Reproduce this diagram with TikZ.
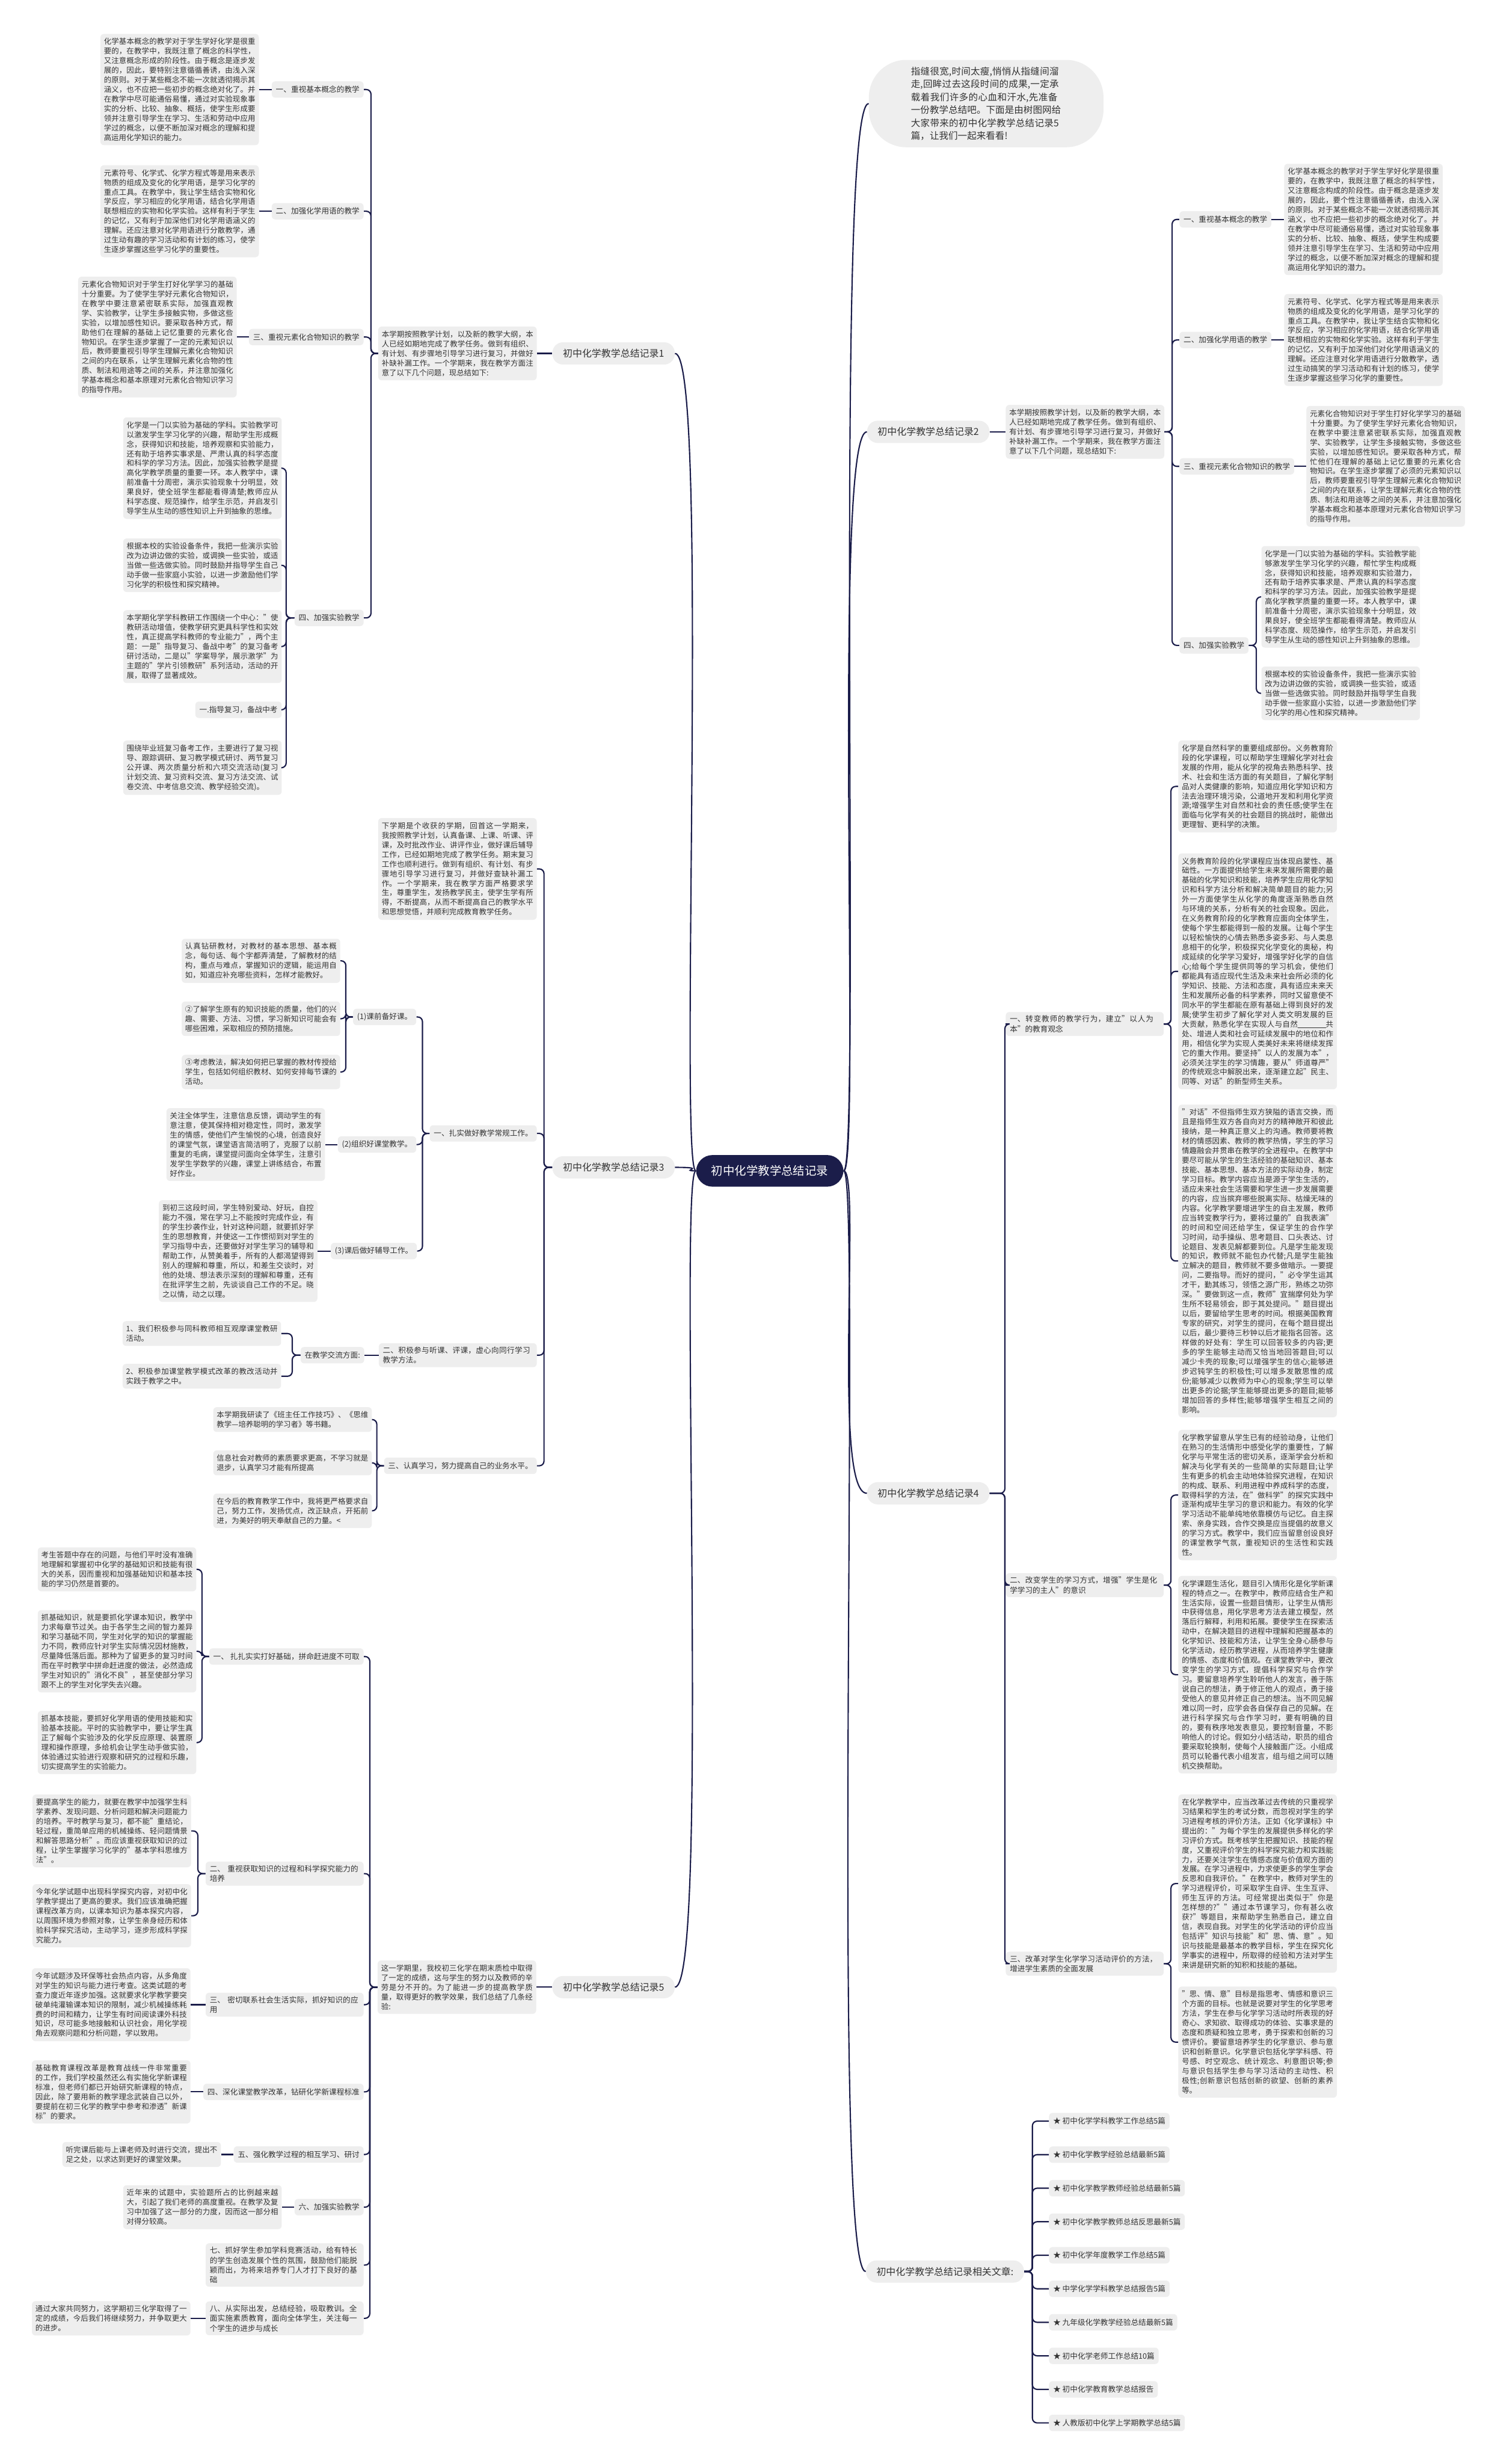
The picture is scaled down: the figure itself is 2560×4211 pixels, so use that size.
\documentclass[tikz,border=0pt]{standalone}
\usepackage{fontspec}
\setmainfont{Noto Sans CJK SC}
\XeTeXlinebreaklocale "zh"
\XeTeXlinebreakskip=0pt plus 1pt
\definecolor{linecol}{HTML}{1B1D4A}
\definecolor{boxcol}{HTML}{EEEEEE}
\definecolor{txtcol}{HTML}{333333}

\begin{document}
\begin{tikzpicture}[x=0.5pt,y=-0.5pt,
  conn/.style={draw=linecol,line width=1.1pt,rounded corners=4pt},
  leaf/.style={fill=boxcol,rounded corners=3pt,text=txtcol,font=\fontsize{6.4pt}{8.2pt}\selectfont,
    text width=129.5pt,align=justify,inner xsep=3pt,inner ysep=3.5pt},
  item/.style={fill=boxcol,rounded corners=3pt,text=txtcol,font=\fontsize{6.5pt}{8.4pt}\selectfont,
    inner xsep=3.5pt,inner ysep=2pt,minimum height=14pt},
  itemw/.style={item,text width=128pt,align=left,inner ysep=3pt},
  branch/.style={fill=boxcol,rounded corners=9pt,text=txtcol,font=\fontsize{8.2pt}{10pt}\selectfont,
    inner xsep=9pt,minimum height=19pt},
  hubnode/.style={fill=linecol,rounded corners=14pt,text=white,font=\fontsize{10pt}{12pt}\selectfont,
    inner xsep=13pt,minimum height=27pt}]
\useasboundingbox[fill=white] (0,0) rectangle (2560,4211);

\node[hubnode] (main) at (1316,2001) {初中化学教学总结记录};

% intro
\node[fill=boxcol,rounded corners=32pt,text=txtcol,font=\fontsize{8pt}{11pt}\selectfont,
  text width=128.5pt,align=left,inner xsep=36pt,inner ysep=6pt,anchor=west] (intro) at (1485,177)
  {指缝很宽,时间太瘦,悄悄从指缝间溜走,回眸过去这段时间的成果,一定承载着我们许多的心血和汗水,先准备一份教学总结吧。下面是由树图网给大家带来的初中化学教学总结记录5篇，让我们一起来看看!};

% record 1
\node[branch,anchor=west] (rec1) at (944,604) {初中化学教学总结记录1};
\node[leaf,anchor=east] (in1) at (918,604) {本学期按照教学计划，以及新的教学大纲，本人已经如期地完成了教学任务。做到有组织、有计划、有步骤地引导学习进行复习，并做好补缺补漏工作。一个学期来，我在教学方面注意了以下几个问题，现总结如下:};
\node[item,anchor=east] (r1l1) at (622,153) {一、重视基本概念的教学};
\node[item,anchor=east] (r1l2) at (622,361) {二、加强化学用语的教学};
\node[item,anchor=east] (r1l3) at (622,576) {三、重视元素化合物知识的教学};
\node[item,anchor=east] (r1l4) at (622,1056) {四、加强实验教学};
\node[leaf,anchor=east] (r1t1) at (443,153) {化学基本概念的教学对于学生学好化学是很重要的，在教学中，我既注意了概念的科学性，又注意概念形成的阶段性。由于概念是逐步发展的，因此，要特别注意循循善诱，由浅入深的原则。对于某些概念不能一次就透彻揭示其涵义，也不应把一些初步的概念绝对化了。并在教学中尽可能通俗易懂，通过对实验现象事实的分析、比较、抽象、概括，使学生形成要领并注意引导学生在学习、生活和劳动中应用学过的概念，以便不断加深对概念的理解和提高运用化学知识的能力。};
\node[leaf,anchor=east] (r1t2) at (443,361) {元素符号、化学式、化学方程式等是用来表示物质的组成及变化的化学用语，是学习化学的重点工具。在教学中，我让学生结合实物和化学反应，学习相应的化学用语，结合化学用语联想相应的实物和化学实验。这样有利于学生的记忆，又有利于加深他们对化学用语涵义的理解。还应注意对化学用语进行分散教学，通过生动有趣的学习活动和有计划的练习，使学生逐步掌握这些学习化学的重要性。};
\node[leaf,anchor=east] (r1t3) at (405,576) {元素化合物知识对于学生打好化学学习的基础十分重要。为了使学生学好元素化合物知识，在教学中要注意紧密联系实际，加强直观教学、实验教学，让学生多接触实物，多做这些实验，以增加感性知识。要采取各种方式，帮助他们在理解的基础上记忆重要的元素化合物知识。在学生逐步掌握了一定的元素知识以后，教师要重视引导学生理解元素化合物知识之间的内在联系，让学生理解元素化合物的性质、制法和用途等之间的关系，并注意加强化学基本概念和基本原理对元素化合物知识学习的指导作用。};
\node[leaf,anchor=east] (r1t4a) at (482,800) {化学是一门以实验为基础的学科。实验教学可以激发学生学习化学的兴趣，帮助学生形成概念，获得知识和技能，培养观察和实验能力，还有助于培养实事求是、严肃认真的科学态度和科学的学习方法。因此，加强实验教学是提高化学教学质量的重要一环。本人教学中，课前准备十分周密，演示实验现象十分明显，效果良好，使全班学生都能看得清楚;教师应从科学态度、规范操作，给学生示范，并启发引导学生从生动的感性知识上升到抽象的思维。};
\node[leaf,anchor=east] (r1t4b) at (482,966) {根据本校的实验设备条件，我把一些演示实验改为边讲边做的实验，或调换一些实验，或适当做一些选做实验。同时鼓励并指导学生自己动手做一些家庭小实验，以进一步激励他们学习化学的积极性和探究精神。};
\node[leaf,anchor=east] (r1t4c) at (482,1105) {本学期化学学科教研工作围绕一个中心："使教研活动增值，使教学研究更具科学性和实效性，真正提高学科教师的专业能力"，两个主题：一是"指导复习、备战中考"的复习备考研讨活动，二是以"学案导学，展示激学"为主题的"学片引领教研"系列活动，活动的开展，取得了显著成效。};
\node[item,anchor=east] (r1t4d) at (482,1213) {一.指导复习，备战中考};
\node[leaf,anchor=east] (r1t4e) at (482,1312) {围绕毕业班复习备考工作，主要进行了复习视导、跟踪调研、复习教学模式研讨、两节复习公开课、两次质量分析和六项交流活动(复习计划交流、复习资料交流、复习方法交流、试卷交流、中考信息交流、教学经验交流)。};
\draw[conn] (rec1.west) -- (in1.east);
\foreach \n in {r1l1,r1l2,r1l3,r1l4} \draw[conn] (in1.west) -- ++(-12,0) |- (\n.east);
\draw[conn] (r1l1.west) -- (r1t1.east);
\draw[conn] (r1l2.west) -- (r1t2.east);
\draw[conn] (r1l3.west) -- (r1t3.east);
\foreach \n in {r1t4a,r1t4b,r1t4c,r1t4d,r1t4e} \draw[conn] (r1l4.west) -- ++(-14,0) |- (\n.east);

% record 3
\node[branch,anchor=west] (rec3) at (944,1995) {初中化学教学总结记录3};
\node[leaf,anchor=east] (in3) at (918,1485) {下学期是个收获的学期，回首这一学期来，我按照教学计划，认真备课、上课、听课、评课，及时批改作业、讲评作业，做好课后辅导工作，已经如期地完成了教学任务。期末复习工作也顺利进行。做到有组织、有计划、有步骤地引导学习进行复习，并做好查缺补漏工作。一个学期来，我在教学方面严格要求学生，尊重学生，发扬教学民主，使学生学有所得，不断提高，从而不断提高自己的教学水平和思想觉悟，并顺利完成教育教学任务。};
\node[item,anchor=east] (r3l1) at (918,1937) {一、扎实做好教学常规工作。};
\node[itemw,anchor=east] (r3l2) at (918,2316) {二、积极参与听课、评课，虚心向同行学习教学方法。};
\node[item,anchor=east] (r3l3) at (918,2505) {三、认真学习，努力提高自己的业务水平。};
\node[item,anchor=east] (r3s1) at (712,1738) {(1)课前备好课。};
\node[item,anchor=east] (r3s2) at (712,1956) {(2)组织好课堂教学。};
\node[item,anchor=east] (r3s3) at (713,2138) {(3)课后做好辅导工作。};
\node[leaf,anchor=east] (r3t1a) at (582,1642) {认真钻研教材，对教材的基本思想、基本概念，每句话、每个字都弄清楚，了解教材的结构，重点与难点，掌握知识的逻辑，能运用自如，知道应补充哪些资料，怎样才能教好。};
\node[leaf,anchor=east] (r3t1b) at (582,1741) {②了解学生原有的知识技能的质量，他们的兴趣、需要、方法、习惯，学习新知识可能会有哪些困难，采取相应的预防措施。};
\node[leaf,anchor=east] (r3t1c) at (582,1832) {③考虑教法，解决如何把已掌握的教材传授给学生，包括如何组织教材、如何安排每节课的活动。};
\node[leaf,anchor=east] (r3t2) at (556,1956) {关注全体学生，注意信息反馈，调动学生的有意注意，使其保持相对稳定性，同时，激发学生的情感，使他们产生愉悦的心境，创造良好的课堂气氛，课堂语言简洁明了，克服了以前重复的毛病，课堂提问面向全体学生，注意引发学生学数学的兴趣，课堂上讲练结合，布置好作业。};
\node[leaf,anchor=east] (r3t3) at (543,2138) {到初三这段时间，学生特别爱动、好玩，自控能力不强，常在学习上不能按时完成作业，有的学生抄袭作业，针对这种问题，就要抓好学生的思想教育，并使这一工作惯彻到对学生的学习指导中去，还要做好对学生学习的辅导和帮助工作，从赞美着手，所有的人都渴望得到别人的理解和尊重，所以，和差生交谈时，对他的处境、想法表示深刻的理解和尊重，还有在批评学生之前，先谈谈自己工作的不足。晓之以情，动之以理。};
\node[item,anchor=east] (r3s4) at (623,2316) {在教学交流方面:};
\node[leaf,anchor=east] (r3t4a) at (481,2279) {1、我们积极参与同科教师相互观摩课堂教研活动。};
\node[leaf,anchor=east] (r3t4b) at (481,2352) {2、积极参加课堂教学模式改革的教改活动并实践于教学之中。};
\node[leaf,anchor=east] (r3t5a) at (636,2426) {本学期我研读了《班主任工作技巧》、《思维教学—培养聪明的学习者》等书籍。};
\node[leaf,anchor=east] (r3t5b) at (636,2500) {信息社会对教师的素质要求更高，不学习就是退步，认真学习才能有所提高};
\node[leaf,anchor=east] (r3t5c) at (636,2582) {在今后的教育教学工作中，我将更严格要求自己，努力工作，发扬优点，改正缺点，开拓前进，为美好的明天奉献自己的力量。<};
\foreach \n in {in3,r3l1,r3l2,r3l3} \draw[conn] (rec3.west) -- ++(-14,0) |- (\n.east);
\foreach \n in {r3s1,r3s2,r3s3} \draw[conn] (r3l1.west) -- ++(-12,0) |- (\n.east);
\foreach \n in {r3t1a,r3t1b,r3t1c} \draw[conn] (r3s1.west) -- ++(-12,0) |- (\n.east);
\draw[conn] (r3s2.west) -- (r3t2.east);
\draw[conn] (r3s3.west) -- (r3t3.east);
\draw[conn] (r3l2.west) -- (r3s4.east);
\foreach \n in {r3t4a,r3t4b} \draw[conn] (r3s4.west) -- ++(-14,0) |- (\n.east);
\foreach \n in {r3t5a,r3t5b,r3t5c} \draw[conn] (r3l3.west) -- ++(-12,0) |- (\n.east);

% record 5
\node[branch,anchor=west] (rec5) at (944,3396) {初中化学教学总结记录5};
\node[leaf,anchor=east] (in5) at (917,3396) {这一学期里，我校初三化学在期末质检中取得了一定的成绩，这与学生的努力以及教师的辛劳是分不开的。为了能进一步的提高教学质量，取得更好的教学效果，我们总结了几条经验:};
\node[item,anchor=east] (r5l1) at (622,2831) {一、 扎扎实实打好基础，拼命赶进度不可取};
\node[itemw,anchor=east] (r5l2) at (622,3202) {二、 重视获取知识的过程和科学探究能力的培养};
\node[itemw,anchor=east] (r5l3) at (622,3426) {三、 密切联系社会生活实际，抓好知识的应用};
\node[item,anchor=east] (r5l4) at (622,3575) {四、深化课堂教学改革，钻研化学新课程标准};
\node[item,anchor=east] (r5l5) at (622,3682) {五、强化教学过程的相互学习、研讨};
\node[item,anchor=east] (r5l6) at (622,3772) {六、加强实验教学};
\node[itemw,anchor=east] (r5l7) at (622,3871) {七、抓好学生参加学科竞赛活动，给有特长的学生创造发展个性的氛围，鼓励他们能脱颖而出，为将来培养专门人才打下良好的基础};
\node[itemw,anchor=east] (r5l8) at (622,3962) {八、从实际出发，总结经验，吸取教训。全面实施素质教育，面向全体学生，关注每一个学生的进步与成长};
\node[leaf,anchor=east] (r5t1a) at (336,2682) {考生答题中存在的问题，与他们平时没有准确地理解和掌握初中化学的基础知识和技能有很大的关系，因而重视和加强基础知识和基本技能的学习仍然是首要的。};
\node[leaf,anchor=east] (r5t1b) at (336,2822) {抓基础知识，就是要抓化学课本知识，教学中力求每章节过关。由于各学生之间的智力差异和学习基础不同，学生对化学的知识的掌握能力不同，教师应针对学生实际情况因材施教，尽量降低落后面。那种为了留更多的复习时间而在平时教学中拼命赶进度的做法，必然造成学生对知识的"消化不良"，甚至使部分学习跟不上的学生对化学失去兴趣。};
\node[leaf,anchor=east] (r5t1c) at (336,2978) {抓基本技能，要抓好化学用语的使用技能和实验基本技能。平时的实验教学中，要让学生真正了解每个实验涉及的化学反应原理、装置原理和操作原理，多给机会让学生动手做实验，体验通过实验进行观察和研究的过程和乐趣，切实提高学生的实验能力。};
\node[leaf,anchor=east] (r5t2a) at (327,3129) {要提高学生的能力，就要在教学中加强学生科学素养、发现问题、分析问题和解决问题能力的培养。平时教学与复习，都不能"重结论，轻过程，重简单应用的机械操练、轻问题情景和解答思路分析"。而应该重视获取知识的过程，让学生掌握学习化学的"基本学科思维方法"。};
\node[leaf,anchor=east] (r5t2b) at (327,3274) {今年化学试题中出现科学探究内容，对初中化学教学提出了更高的要求。我们应该准确把握课程改革方向，以课本知识为基本探究内容，以周围环境为参照对象，让学生亲身经历和体验科学探究活动，主动学习，逐步形成科学探究能力。};
\node[leaf,anchor=east] (r5t3) at (326,3426) {今年试题涉及环保等社会热点内容，从多角度对学生的知识与能力进行考查。这类试题的考查力度近年逐步加强。这就要求化学教学要突破单纯灌输课本知识的限制，减少机械操练耗费的时间和精力，让学生有时间阅读课外科技知识，尽可能多地接触和认识社会，用化学视角去观察问题和分析问题，学以致用。};
\node[leaf,anchor=east] (r5t4) at (326,3575) {基础教育课程改革是教育战线一件非常重要的工作，我们学校虽然还么有实施化学新课程标准，但老师们都已开始研究新课程的特点，因此，除了要用新的教学理念武装自己以外，要提前在初三化学的教学中参考和渗透"新课标"的要求。};
\node[leaf,anchor=east] (r5t5) at (378,3682) {听完课后能与上课老师及时进行交流，提出不足之处，以求达到更好的课堂效果。};
\node[leaf,anchor=east] (r5t6) at (482,3772) {近年来的试题中，实验题所占的比例越来越大，引起了我们老师的高度重视。在教学及复习中加强了这一部分的力度，因而这一部分相对得分较高。};
\node[leaf,anchor=east] (r5t8) at (326,3962) {通过大家共同努力，这学期初三化学取得了一定的成绩，今后我们将继续努力，并争取更大的进步。};
\draw[conn] (rec5.west) -- (in5.east);
\foreach \n in {r5l1,r5l2,r5l3,r5l4,r5l5,r5l6,r5l7,r5l8} \draw[conn] (in5.west) -- ++(-13,0) |- (\n.east);
\foreach \n in {r5t1a,r5t1b,r5t1c} \draw[conn] (r5l1.west) -- ++(-12,0) |- (\n.east);
\foreach \n in {r5t2a,r5t2b} \draw[conn] (r5l2.west) -- ++(-13,0) |- (\n.east);
\draw[conn] (r5l3.west) -- (r5t3.east);
\draw[conn] (r5l4.west) -- (r5t4.east);
\draw[conn] (r5l5.west) -- (r5t5.east);
\draw[conn] (r5l6.west) -- (r5t6.east);
\draw[conn] (r5l8.west) -- (r5t8.east);

% record 2
\node[branch,anchor=west] (rec2) at (1482,738) {初中化学教学总结记录2};
\node[leaf,anchor=west] (in2) at (1719,738) {本学期按照教学计划，以及新的教学大纲，本人已经如期地完成了教学任务。做到有组织、有计划、有步骤地引导学习进行复习，并做好补缺补漏工作。一个学期来，我在教学方面注意了以下几个问题，现总结如下:};
\node[item,anchor=west] (r2l1) at (2016,375) {一、重视基本概念的教学};
\node[item,anchor=west] (r2l2) at (2016,581) {二、加强化学用语的教学};
\node[item,anchor=west] (r2l3) at (2016,797) {三、重视元素化合物知识的教学};
\node[item,anchor=west] (r2l4) at (2016,1103) {四、加强实验教学};
\node[leaf,anchor=west] (r2t1) at (2195,375) {化学基本概念的教学对于学生学好化学是很重要的，在教学中，我既注意了概念的科学性，又注意概念构成的阶段性。由于概念是逐步发展的，因此，要个性注意循循善诱，由浅入深的原则。对于某些概念不能一次就透彻揭示其涵义，也不应把一些初步的概念绝对化了。并在教学中尽可能通俗易懂，透过对实验现象事实的分析、比较、抽象、概括，使学生构成要领并注意引导学生在学习、生活和劳动中应用学过的概念，以便不断加深对概念的理解和提高运用化学知识的潜力。};
\node[leaf,anchor=west] (r2t2) at (2195,581) {元素符号、化学式、化学方程式等是用来表示物质的组成及变化的化学用语，是学习化学的重点工具。在教学中，我让学生结合实物和化学反应，学习相应的化学用语，结合化学用语联想相应的实物和化学实验。这样有利于学生的记忆，又有利于加深他们对化学用语涵义的理解。还应注意对化学用语进行分散教学，透过生动搞笑的学习活动和有计划的练习，使学生逐步掌握这些学习化学的重要性。};
\node[leaf,anchor=west] (r2t3) at (2233,797) {元素化合物知识对于学生打好化学学习的基础十分重要。为了使学生学好元素化合物知识，在教学中要注意紧密联系实际，加强直观教学、实验教学，让学生多接触实物，多做这些实验，以增加感性知识。要采取各种方式，帮忙他们在理解的基础上记忆重要的元素化合物知识。在学生逐步掌握了必须的元素知识以后，教师要重视引导学生理解元素化合物知识之间的内在联系，让学生理解元素化合物的性质、制法和用途等之间的关系，并注意加强化学基本概念和基本原理对元素化合物知识学习的指导作用。};
\node[leaf,anchor=west] (r2t4a) at (2156,1020) {化学是一门以实验为基础的学科。实验教学能够激发学生学习化学的兴趣，帮忙学生构成概念，获得知识和技能，培养观察和实验潜力，还有助于培养实事求是、严肃认真的科学态度和科学的学习方法。因此，加强实验教学是提高化学教学质量的重要一环。本人教学中，课前准备十分周密，演示实验现象十分明显，效果良好，使全班学生都能看得清楚。教师应从科学态度、规范操作，给学生示范，并启发引导学生从生动的感性知识上升到抽象的思维。};
\node[leaf,anchor=west] (r2t4b) at (2156,1185) {根据本校的实验设备条件，我把一些演示实验改为边讲边做的实验，或调换一些实验，或适当做一些选做实验。同时鼓励并指导学生自我动手做一些家庭小实验，以进一步激励他们学习化学的用心性和探究精神。};
\draw[conn] (rec2.east) -- (in2.west);
\foreach \n in {r2l1,r2l2,r2l3,r2l4} \draw[conn] (in2.east) -- ++(13,0) |- (\n.west);
\draw[conn] (r2l1.east) -- (r2t1.west);
\draw[conn] (r2l2.east) -- (r2t2.west);
\draw[conn] (r2l3.east) -- (r2t3.west);
\foreach \n in {r2t4a,r2t4b} \draw[conn] (r2l4.east) -- ++(13,0) |- (\n.west);

% record 4
\node[branch,anchor=west] (rec4) at (1482,2552) {初中化学教学总结记录4};
\node[itemw,anchor=west] (r4l1) at (1719,1750) {一、转变教师的教学行为，建立"以人为本"的教育观念};
\node[itemw,anchor=west] (r4l2) at (1719,2709) {二、改变学生的学习方式，增强"学生是化学学习的主人"的意识};
\node[itemw,anchor=west] (r4l3) at (1719,3356) {三、改革对学生化学学习活动评价的方法，增进学生素质的全面发展};
\node[leaf,anchor=west] (r4t1a) at (2014,1344) {化学是自然科学的重要组成部份。义务教育阶段的化学课程，可以帮助学生理解化学对社会发展的作用，能从化学的视角去熟悉科学、技术、社会和生活方面的有关题目，了解化学制品对人类健康的影响，知道应用化学知识和方法去治理环境污染，公道地开发和利用化学资源;增强学生对自然和社会的责任感;使学生在面临与化学有关的社会题目的挑战时，能做出更理智、更科学的决策。};
\node[leaf,anchor=west] (r4t1b) at (2014,1660) {义务教育阶段的化学课程应当体现启蒙性、基础性。一方面提供给学生未来发展所需要的最基础的化学知识和技能，培养学生应用化学知识和科学方法分析和解决简单题目的能力;另外一方面使学生从化学的角度逐渐熟悉自然与环境的关系，分析有关的社会现象。因此，在义务教育阶段的化学教育应面向全体学生，使每个学生都能得到一般的发展。让每个学生以轻松愉快的心情去熟悉多姿多彩、与人类息息相干的化学，积极探究化学变化的奥秘，构成延续的化学学习爱好，增强学好化学的自信心;给每个学生提供同等的学习机会，使他们都能具有适应现代生活及未来社会所必须的化学知识、技能、方法和态度，具有适应未来天生和发展所必备的科学素养，同时又留意使不同水平的学生都能在原有基础上得到良好的发展;使学生初步了解化学对人类文明发展的巨大贡献，熟悉化学在实现人与自然\rule[-1pt]{24pt}{0.4pt}共处、增进人类和社会可延续发展中的地位和作用，相信化学为实现人类美好未来将继续发挥它的重大作用。要坚持"以人的发展为本"，必须关注学生的学习情趣，要从"师道尊严"的传统观念中解脱出来，逐渐建立起"民主、同等、对话"的新型师生关系。};
\node[leaf,anchor=west] (r4t1c) at (2014,2155) {"对话"不但指师生双方狭隘的语言交换，而且是指师生双方各自向对方的精神敞开和彼此接纳，是一种真正意义上的沟通。教师要将教材的情感因素、教师的教学热情，学生的学习情趣融会并贯串在教学的全进程中。在教学中要尽可能从学生的生活经验的基础知识、基本技能、基本思想、基本方法的实际动身，制定学习目标。教学内容应当是源于学生生活的，适应未来社会生活需要和学生进一步发展需要的内容，应当摈弃哪些脱离实际、枯燥无味的内容。化学教学要增进学生的自主发展，教师应当转变教学行为，要将过量的"自我表演"的时间和空间还给学生，保证学生的合作学习时间，动手操纵、思考题目、口头表达、讨论题目、发表见解都要到位。凡是学生能发现的知识，教师就不能包办代替;凡是学生能独立解决的题目，教师就不要多做暗示。一要提问，二要指导。而好的提问，"必令学生运其才干，勤其练习，领悟之源广形，熟练之功弥深。"要做到这一点，教师"宜揣摩何处为学生所不轻易领会，即于其处提问。"题目提出以后，要留给学生思考的时间。根据美国教育专家的研究，对学生的提问，在每个题目提出以后，最少要待三秒钟以后才能指名回答。这样做的好处有：学生可以回答较多的内容;更多的学生能够主动而又恰当地回答题目;可以减少卡壳的现象;可以增强学生的信心;能够进步迟钝学生的积极性;可以增多发散思惟的成份;能够减少以教师为中心的现象;学生可以举出更多的论据;学生能够提出更多的题目;能够增加回答的多样性;能够增强学生相互之间的影响。};
\node[leaf,anchor=west] (r4t2a) at (2014,2555) {化学教学留意从学生已有的经验动身，让他们在熟习的生活情形中感受化学的重要性，了解化学与平常生活的密切关系，逐渐学会分析和解决与化学有关的一些简单的实际题目;让学生有更多的机会主动地体验探究进程，在知识的构成、联系、利用进程中养成科学的态度，取得科学的方法，在"做科学"的探究实践中逐渐构成毕生学习的意识和能力。有效的化学学习活动不能单纯地依靠模仿与记忆。自主探索、亲身实践，合作交换是应当提倡的故意义的学习方式。教学中，我们应当留意创设良好的课堂教学气氛，重视知识的生活性和实践性。};
\node[leaf,anchor=west] (r4t2b) at (2014,2862) {化学课题生活化，题目引入情形化是化学新课程的特点之一。在教学中，教师应结合生产和生活实际，设置一些题目情形，让学生从情形中获得信息，用化学思考方法去建立模型，然落后行解释，利用和拓展。要使学生在探索活动中，在解决题目的进程中理解和把握基本的化学知识、技能和方法，让学生全身心肠参与化学活动，经历教学进程，从而培养学生健康的情感、态度和价值观。在课堂教学中，要改变学生的学习方式，提倡科学探究与合作学习。要留意培养学生聆听他人的发言，善于陈说自己的想法，勇于修正他人的观点，勇于接受他人的意见并修正自己的想法。当不同见解难以同一时，应学会各自保存自己的见解。在进行科学探究与合作学习时，要有明确的目的，要有秩序地发表意见，要控制音量，不影响他人的讨论。假如分小结活动，职员的组合要采取轮换制，使每个人接触面广泛。小组成员可以轮番代表小组发言，组与组之间可以随机交换帮助。};
\node[leaf,anchor=west] (r4t3a) at (2014,3219) {在化学教学中，应当改革过去传统的只重视学习结果和学生的考试分数，而忽视对学生的学习进程考核的评价方法。正如《化学课标》中提出的："为每个学生的发展提供多样化的学习评价方式。既考核学生把握知识、技能的程度，又重视评价学生的科学探究能力和实践能力，还要关注学生在情感态度与价值观方面的发展。在学习进程中，力求使更多的学生学会反思和自我评价。"在教学中，教师对学生的学习进程评价，可采取学生自评、生生互评、师生互评的方法。可经常提出类似于"你是怎样想的?""通过本节课学习，你有甚么收获?"等题目，来帮助学生熟悉自己，建立自信，表现自我。对学生的化学活动的评价应当包括评"知识与技能"和"思、情、意"。知识与技能是最基本的教学目标，学生在探究化学事实的进程中，所取得的经验和方法对学生来讲是研究新的知积和技能的基础。};
\node[leaf,anchor=west] (r4t3b) at (2014,3490) {"思、情、意"目标是指思考、情感和意识三个方面的目标。也就是说要对学生的化学思考方法，学生在参与化学学习活动时所表现的好奇心、求知欲、取得成功的体验、实事求是的态度和质疑和独立思考，勇于探索和创新的习惯评价。要留意培养学生的化学意识、参与意识和创新意识。化学意识包括化学学科感、符号感、时空观念、统计观念、利意图识等;参与意识包括学生参与学习活动的主动性、积极性;创新意识包括创新的欲望、创新的素养等。};
\foreach \n in {r4l1,r4l2,r4l3} \draw[conn] (rec4.east) -- ++(26,0) |- (\n.west);
\foreach \n in {r4t1a,r4t1b,r4t1c} \draw[conn] (r4l1.east) -- ++(12,0) |- (\n.west);
\foreach \n in {r4t2a,r4t2b} \draw[conn] (r4l2.east) -- ++(12,0) |- (\n.west);
\foreach \n in {r4t3a,r4t3b} \draw[conn] (r4l3.east) -- ++(12,0) |- (\n.west);

% related
\node[branch,anchor=west] (relh) at (1480,3882) {初中化学教学总结记录相关文章:};
\foreach \i/\t in {1/初中化学学科教学工作总结5篇,2/初中化学教学经验总结最新5篇,3/初中化学教学教师经验总结最新5篇,
  4/初中化学教学教师总结反思最新5篇,5/初中化学年度教学工作总结5篇,6/中学化学学科教学总结报告5篇,
  7/九年级化学教学经验总结最新5篇,8/初中化学老师工作总结10篇,9/初中化学教育教学总结报告,
  10/人教版初中化学上学期教学总结5篇}{
  \node[item,anchor=west] (rel\i) at (1793,{3625+57.3*(\i-1)}) {★ \t};
  \draw[conn] (relh.east) -- ++(14,0) |- (rel\i.west);
}

% main links
\foreach \n in {rec1,rec3,rec5} \draw[conn] (main.west) .. controls +(-30,0) and +(60,0) .. (\n.east);
\foreach \n in {intro,rec2,rec4,relh} \draw[conn] (main.east) .. controls +(30,0) and +(-60,0) .. (\n.west);
\end{tikzpicture}
\end{document}
